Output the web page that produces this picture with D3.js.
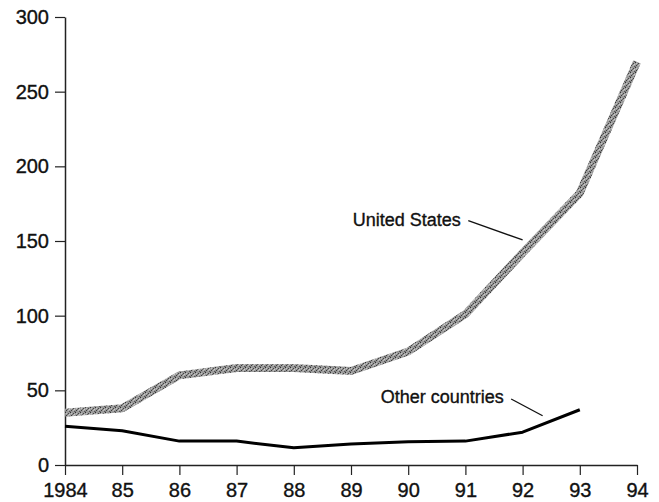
<!DOCTYPE html>
<html>
<head>
<meta charset="utf-8">
<script src="https://cdn.jsdelivr.net/npm/d3@7"></script>
<style>
  body { margin: 0; background: #fff; }
  text { font-family: "Liberation Sans", Arial, sans-serif; fill: #111; stroke: #111; stroke-width: 0.35px; }
</style>
</head>
<body>
<div id="chart"></div>
<script>
// data
const years = [1984, 1985, 1986, 1987, 1988, 1989, 1990, 1991, 1992, 1993, 1994];
const yearLabels = ["1984", "85", "86", "87", "88", "89", "90", "91", "92", "93", "94"];
const unitedStates = [35, 38, 60, 65, 65, 63, 76, 101, 142, 182, 270];
const otherYears = [1984, 1985, 1986, 1987, 1988, 1989, 1990, 1991, 1992, 1993];
const otherCountries = [26, 23, 16, 16, 11.5, 14, 15.5, 16, 22, 37];
const yTicks = [0, 50, 100, 150, 200, 250, 300];

const margin = { top: 17, right: 22, bottom: 37, left: 65 },
    W = 659, H = 502,
    width = W - margin.left - margin.right,
    height = H - margin.top - margin.bottom;

const svg = d3.select("#chart")
    .append("svg")
    .attr("width", W)
    .attr("height", H);

// stippled grey texture for the US line
const pat = svg.append("defs").append("pattern")
    .attr("id", "speckle")
    .attr("patternUnits", "userSpaceOnUse")
    .attr("width", 5).attr("height", 5);
pat.append("rect").attr("width", 5).attr("height", 5).attr("fill", "#9a9a9a");
const dots = [[0, 0, "#333"], [3, 1, "#444"], [1, 3, "#3a3a3a"], [4, 4, "#555"], [2, 2, "#666"], [4, 2, "#ccc"], [1, 1, "#c4c4c4"], [3, 3, "#bbb"], [0, 4, "#777"]];
dots.forEach(([dx, dy, c]) => {
    pat.append("rect").attr("x", dx).attr("y", dy).attr("width", 1).attr("height", 1).attr("fill", c);
});

const g = svg.append("g")
    .attr("transform", `translate(${margin.left},${margin.top})`);

const x = d3.scaleLinear().domain([1984, 1994]).range([0, width]);
const y = d3.scaleLinear().domain([0, 300]).range([height, 0]);

// axes
const xAxis = g.append("g")
    .attr("transform", `translate(0,${height})`)
    .call(d3.axisBottom(x)
        .tickValues(years)
        .tickFormat((d, i) => yearLabels[i])
        .tickSize(10)
        .tickSizeOuter(0)
        .tickPadding(8));

const yAxis = g.append("g")
    .call(d3.axisLeft(y)
        .tickValues(yTicks)
        .tickSize(10)
        .tickSizeOuter(0)
        .tickPadding(6));

[xAxis, yAxis].forEach(a => {
    a.select(".domain").attr("stroke", "#222").attr("stroke-width", 1.5);
    a.selectAll(".tick line").attr("stroke", "#222").attr("stroke-width", 1.2);
    a.selectAll("text").style("font-size", "20px").attr("fill", "#111");
});

// lines
const usLine = d3.line()
    .x((d, i) => x(years[i]))
    .y(d => y(d));

g.append("path")
    .datum(unitedStates)
    .attr("d", usLine)
    .attr("fill", "none")
    .attr("stroke", "url(#speckle)")
    .attr("stroke-width", 8)
    .attr("stroke-linejoin", "round");

const otherLine = d3.line()
    .x((d, i) => x(otherYears[i]))
    .y(d => y(d));

g.append("path")
    .datum(otherCountries)
    .attr("d", otherLine)
    .attr("fill", "none")
    .attr("stroke", "#000")
    .attr("stroke-width", 3)
    .attr("stroke-linejoin", "round");

// labels with leader lines
g.append("text")
    .attr("x", x(1989.03))
    .attr("y", y(160))
    .style("font-size", "18px")
    .text("United States");

g.append("line")
    .attr("x1", x(1991.05)).attr("y1", y(163.6))
    .attr("x2", x(1992.0)).attr("y2", y(150.7))
    .attr("stroke", "#111").attr("stroke-width", 1.3);

g.append("text")
    .attr("x", x(1989.52))
    .attr("y", y(41.5))
    .style("font-size", "18px")
    .text("Other countries");

g.append("line")
    .attr("x1", x(1991.8)).attr("y1", y(44.2))
    .attr("x2", x(1992.35)).attr("y2", y(33))
    .attr("stroke", "#111").attr("stroke-width", 1.3);
</script>
</body>
</html>
